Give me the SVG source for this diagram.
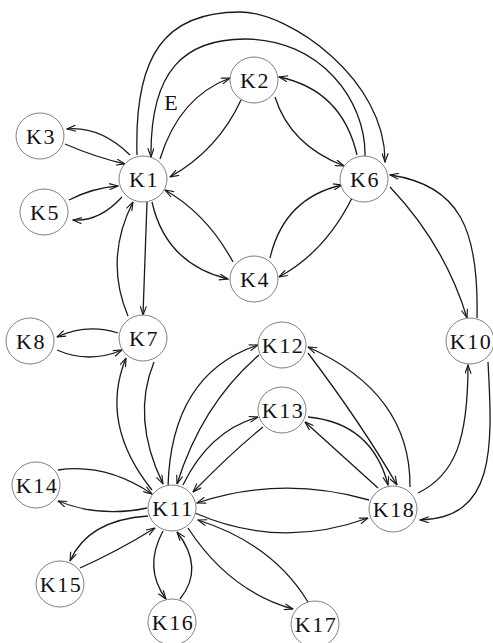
<svg xmlns="http://www.w3.org/2000/svg" width="493" height="643" viewBox="0 0 493 643">
<style>
.n ellipse{fill:#fff;stroke:#808080;stroke-width:1}
.n text{font-family:"Liberation Serif","Times New Roman",serif;font-size:22px;letter-spacing:1.5px;fill:#111;text-anchor:middle}
.lbl{font-family:"Liberation Serif","Times New Roman",serif;font-size:22px;fill:#111;text-anchor:middle}
#edges path{fill:none;stroke:#1a1a1a;stroke-width:1.3;marker-end:url(#ah)}
</style>
<defs>
<marker id="ah" viewBox="0 0 10 8" refX="10" refY="4" markerWidth="10" markerHeight="7" markerUnits="userSpaceOnUse" orient="auto">
<path d="M0,0.5 L10,4 L0,7.5" fill="none" stroke="#1a1a1a" stroke-width="1.3"/>
</marker>
</defs>
<rect width="493" height="643" fill="#fff"/>
<g id="edges">
<path d="M137,155 C134,55 165,12 240,12 C290,12 386,80 385,162"/>
<path d="M365,156 C366,100 320,39 245,39 C185,39 150,70 151,157"/>
<path d="M130,155 Q100,126 67,129"/>
<path d="M65,144 Q95,157 125,164"/>
<path d="M69,200 Q92,188 118,186"/>
<path d="M122,197 Q99,222 73,220"/>
<path d="M160,159 Q179,97 230,78"/>
<path d="M241,100 Q218,150 170,177"/>
<path d="M357,155 Q342,90 279,77"/>
<path d="M275,97 Q290,145 344,166"/>
<path d="M152,202 Q166,264 228,279"/>
<path d="M233,262 Q207,214 165,190"/>
<path d="M270,258 Q284,198 342,185"/>
<path d="M352,198 Q325,252 279,277"/>
<path d="M147,202 L143,315"/>
<path d="M128,316 Q104,259 133,202"/>
<path d="M118,333 Q87,323 57,337"/>
<path d="M57,350 Q89,364 122,350"/>
<path d="M152,490 Q99,424 126,358"/>
<path d="M154,362 Q131,418 163,484"/>
<path d="M168,487 Q171,374 258,345"/>
<path d="M259,355 Q202,404 177,484"/>
<path d="M183,485 Q209,431 258,417"/>
<path d="M263,427 Q232,452 193,492"/>
<path d="M308,353 Q361,423 397,485"/>
<path d="M410,487 Q411,393 308,347"/>
<path d="M308,417 Q372,423 388,485"/>
<path d="M378,488 L305,422"/>
<path d="M369,500 Q281,475 197,503"/>
<path d="M195,513 Q280,550 368,518"/>
<path d="M418,493 C455,475 468,440 468,365"/>
<path d="M488,362 C493,450 495,518 420,520"/>
<path d="M390,187 Q445,245 467,318"/>
<path d="M477,318 C479,230 460,185 390,175"/>
<path d="M58,470 Q106,463 152,494"/>
<path d="M147,508 Q100,518 58,501"/>
<path d="M148,516 Q88,520 70,561"/>
<path d="M80,568 Q118,551 155,528"/>
<path d="M163,531 Q143,568 166,599"/>
<path d="M180,599 Q205,568 177,532"/>
<path d="M188,528 Q229,591 293,609"/>
<path d="M308,602 Q273,544 198,520"/>
</g>
<text class="lbl" x="171" y="110">E</text>
<g id="K1" class="n"><ellipse cx="143" cy="179" rx="24" ry="23"/><text x="144" y="187">K1</text></g>
<g id="K2" class="n"><ellipse cx="254" cy="80" rx="24" ry="23"/><text x="255" y="88">K2</text></g>
<g id="K3" class="n"><ellipse cx="40" cy="136" rx="24" ry="23"/><text x="41" y="144">K3</text></g>
<g id="K4" class="n"><ellipse cx="254" cy="279" rx="24" ry="23"/><text x="255" y="287">K4</text></g>
<g id="K5" class="n"><ellipse cx="44" cy="212" rx="24" ry="23"/><text x="45" y="220">K5</text></g>
<g id="K6" class="n"><ellipse cx="364" cy="179" rx="24" ry="23"/><text x="365" y="187">K6</text></g>
<g id="K7" class="n"><ellipse cx="143" cy="338" rx="24" ry="23"/><text x="144" y="346">K7</text></g>
<g id="K8" class="n"><ellipse cx="30" cy="341" rx="24" ry="23"/><text x="31" y="349">K8</text></g>
<g id="K10" class="n"><ellipse cx="470" cy="341" rx="24" ry="23"/><text x="471" y="349">K10</text></g>
<g id="K11" class="n"><ellipse cx="172" cy="508" rx="24" ry="23"/><text x="173" y="516">K11</text></g>
<g id="K12" class="n"><ellipse cx="282" cy="345" rx="24" ry="23"/><text x="283" y="353">K12</text></g>
<g id="K13" class="n"><ellipse cx="282" cy="410" rx="24" ry="23"/><text x="283" y="418">K13</text></g>
<g id="K14" class="n"><ellipse cx="36" cy="485" rx="24" ry="23"/><text x="37" y="493">K14</text></g>
<g id="K15" class="n"><ellipse cx="60" cy="584" rx="24" ry="23"/><text x="61" y="592">K15</text></g>
<g id="K16" class="n"><ellipse cx="172" cy="622" rx="24" ry="23"/><text x="173" y="630">K16</text></g>
<g id="K17" class="n"><ellipse cx="315" cy="624" rx="24" ry="23"/><text x="316" y="632">K17</text></g>
<g id="K18" class="n"><ellipse cx="393" cy="509" rx="24" ry="23"/><text x="394" y="517">K18</text></g>
</svg>
